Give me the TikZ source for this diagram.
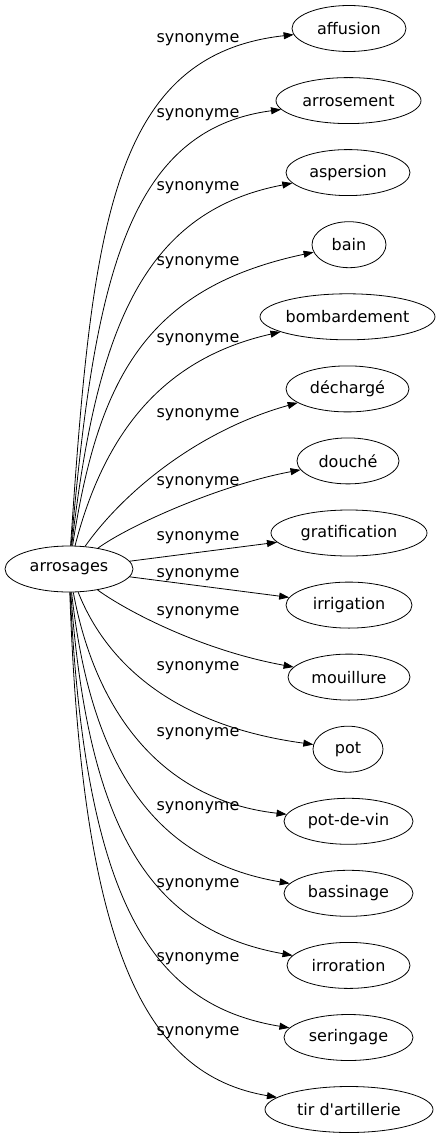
\documentclass[tikz,border=0pt]{standalone}
\usepackage{fontspec}
\setmainfont{DejaVu Sans}
\usepackage{tikz}
\usetikzlibrary{arrows.meta,shapes.geometric}

\begin{document}
\begin{tikzpicture}[x=1pt,y=-1pt,
    font=\fontsize{16pt}{19pt}\selectfont,
    mot/.style={draw,ellipse,line width=0.8pt,inner sep=0pt,minimum height=46pt},
    lien/.style={line width=0.8pt,-{Triangle[length=10pt,width=7pt]}},
    etiq/.style={inner sep=0pt}]
        \useasboundingbox (0,0) rectangle (446,1139);

        % Noeud source
        \node[mot,minimum width=128pt] (arrosages) at (69,569) {arrosages};

        % Synonymes
        \node[mot,minimum width=114pt] (affusion) at (349,28.5) {affusion};
        \node[mot,minimum width=145pt] (arrosement) at (348.5,100.6) {arrosement};
        \node[mot,minimum width=124pt] (aspersion) at (348,172.6) {aspersion};
        \node[mot,minimum width=74pt] (bain) at (349,244.7) {bain};
        \node[mot,minimum width=175pt] (bombardement) at (347.5,316.8) {bombardement};
        \node[mot,minimum width=123pt] (decharge) at (347.5,388.9) {déchargé};
        \node[mot,minimum width=102pt] (douche) at (348,460.9) {douché};
        \node[mot,minimum width=156pt] (gratification) at (349,533) {gratification};
        \node[mot,minimum width=126pt] (irrigation) at (349,605.1) {irrigation};
        \node[mot,minimum width=122pt] (mouillure) at (349,677.1) {mouillure};
        \node[mot,minimum width=70pt] (pot) at (348,749.2) {pot};
        \node[mot,minimum width=129pt] (potdevin) at (348.5,821.3) {pot-de-vin};
        \node[mot,minimum width=129pt] (bassinage) at (348.5,893.3) {bassinage};
        \node[mot,minimum width=123pt] (irroration) at (348.5,965.4) {irroration};
        \node[mot,minimum width=129pt] (seringage) at (348.5,1037.5) {seringage};
        \node[mot,minimum width=168pt] (tir) at (349,1109.5) {tir d\textquotesingle artillerie};

        % Etiquettes des liens
        \node[etiq] (e1) at (198,40) {synonyme};
        \node[etiq] (e2) at (198,115) {synonyme};
        \node[etiq] (e3) at (198,188) {synonyme};
        \node[etiq] (e4) at (198,263) {synonyme};
        \node[etiq] (e5) at (198,340) {synonyme};
        \node[etiq] (e6) at (198,415) {synonyme};
        \node[etiq] (e7) at (198,483) {synonyme};
        \node[etiq] (e8) at (198,538) {synonyme};
        \node[etiq] (e9) at (198,575) {synonyme};
        \node[etiq] (e10) at (198,613) {synonyme};
        \node[etiq] (e11) at (198,668) {synonyme};
        \node[etiq] (e12) at (198,734) {synonyme};
        \node[etiq] (e13) at (198,808) {synonyme};
        \node[etiq] (e14) at (198,885) {synonyme};
        \node[etiq] (e15) at (198,959) {synonyme};
        \node[etiq] (e16) at (198,1033) {synonyme};

        % Liens vers le haut
        \draw[lien] (arrosages) .. controls (92,230) and (110,55) .. (affusion);
        \draw[lien] (arrosages) .. controls (94,286) and (125,130) .. (arrosement);
        \draw[lien] (arrosages) .. controls (96,335) and (140,212) .. (aspersion);
        \draw[lien] (arrosages) .. controls (98,380) and (145,288) .. (bain);
        \draw[lien] (arrosages) .. controls (105,430) and (165,358) .. (bombardement);
        \draw[lien] (arrosages) .. controls (125,490) and (200,430) .. (decharge);
        \draw[lien] (arrosages) .. controls (130,525) and (220,485) .. (douche);

        % Liens presque droits
        \draw[lien] (arrosages) -- (gratification);
        \draw[lien] (arrosages) -- (irrigation);

        % Liens vers le bas
        \draw[lien] (arrosages) .. controls (125,610) and (200,650) .. (mouillure);
        \draw[lien] (arrosages) .. controls (105,660) and (170,725) .. (pot);
        \draw[lien] (arrosages) .. controls (95,710) and (160,800) .. (potdevin);
        \draw[lien] (arrosages) .. controls (90,760) and (150,860) .. (bassinage);
        \draw[lien] (arrosages) .. controls (88,830) and (150,930) .. (irroration);
        \draw[lien] (arrosages) .. controls (85,900) and (150,1005) .. (seringage);
        \draw[lien] (arrosages) .. controls (82,950) and (145,1075) .. (tir);
\end{tikzpicture}
\end{document}
